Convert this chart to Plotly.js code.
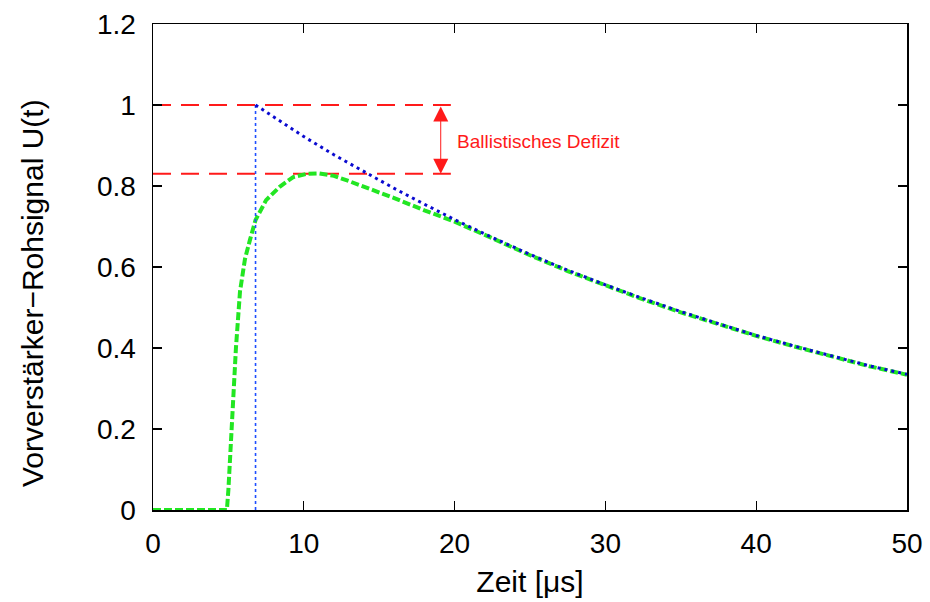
<!DOCTYPE html>
<html>
<head>
<meta charset="utf-8">
<script src="https://cdn.plot.ly/plotly-3.0.1.min.js"></script>
<style>html,body{margin:0;padding:0;background:#fff}#chart{width:930px;height:602px}</style>
</head>
<body>
<div id="chart"></div>
<script>
// Data
const greenX = [0, 4.9, 5.0, 5.3, 5.5, 5.77, 6.1, 6.43, 6.8, 7.5, 8.4, 9.3, 10.2, 11.0, 12.0, 13.0, 14.6, 16.0, 18.0, 20.0, 22.5, 25, 27.5, 30, 32.5, 35, 37.5, 40, 42.5, 45, 47.5, 50];
const greenY = [0, 0, 0.05, 0.27, 0.40, 0.54, 0.62, 0.667, 0.716, 0.765, 0.798, 0.822, 0.830, 0.831, 0.825, 0.812, 0.790, 0.770, 0.740, 0.712, 0.671, 0.629, 0.590, 0.554, 0.520, 0.488, 0.458, 0.430, 0.404, 0.379, 0.355, 0.334];
const blueX = [6.8, 8, 10, 12, 14, 16, 18, 20, 22.5, 25, 27.5, 30, 32.5, 35, 37.5, 40, 42.5, 45, 47.5, 50];
const blueY = [1.0, 0.970, 0.922, 0.877, 0.835, 0.794, 0.755, 0.717, 0.673, 0.631, 0.592, 0.556, 0.522, 0.490, 0.460, 0.431, 0.405, 0.380, 0.356, 0.335];
const stepX = [6.8, 6.8];
const stepY = [0, 1.0];
const levelTop = 1.0;
const levelPeak = 0.83;
const levelX = [0, 19.75];
const arrowX = 19.08;
const labelText = "Ballistisches Defizit";
const xTitle = "Zeit [μs]";
const yTitle = "Vorverstärker−Rohsignal U(t)";
const xTicks = [0, 10, 20, 30, 40, 50];
const yTicks = [0, 0.2, 0.4, 0.6, 0.8, 1, 1.2];
const yTickText = ["0", "0.2", "0.4", "0.6", "0.8", "1", "1.2"];

const traces = [
  {x: levelX, y: [levelTop, levelTop], mode: 'lines', line: {color: '#ff1a1a', width: 2, dash: '18px,10px'}, hoverinfo: 'skip'},
  {x: levelX, y: [levelPeak, levelPeak], mode: 'lines', line: {color: '#ff1a1a', width: 2, dash: '18px,10px'}, hoverinfo: 'skip'},
  {x: greenX, y: greenY, mode: 'lines', line: {color: '#22e622', width: 4, dash: '8px,3px'}},
  {x: stepX, y: stepY, mode: 'lines', line: {color: '#1f4fff', width: 1.6, dash: '3px,3px'}},
  {x: blueX, y: blueY, mode: 'lines', line: {color: '#0a0ad0', width: 3, dash: '3px,4px'}}
];

const fam = 'Liberation Sans, Arial, sans-serif';
const axFont = {family: fam, size: 28, color: '#000'};
const layout = {
  width: 930, height: 602,
  margin: {l: 153, r: 23, t: 24, b: 92},
  paper_bgcolor: '#fff', plot_bgcolor: '#fff',
  showlegend: false,
  xaxis: {
    range: [0, 50], tickvals: xTicks, ticktext: xTicks.map(String),
    ticks: 'inside', ticklen: 9, tickwidth: 1.2, tickcolor: '#000',
    showline: true, linecolor: '#000', linewidth: 1.5, mirror: 'ticks',
    showgrid: false, zeroline: false, tickfont: axFont, ticklabelstandoff: 8,
    title: {text: xTitle, font: {family: fam, size: 30, color: '#000'}, standoff: 13}
  },
  yaxis: {
    range: [0, 1.2], tickvals: yTicks, ticktext: yTickText,
    ticks: 'inside', ticklen: 9, tickwidth: 1.2, tickcolor: '#000',
    showline: true, linecolor: '#000', linewidth: 1.5, mirror: 'ticks',
    showgrid: false, zeroline: false, tickfont: axFont, ticklabelstandoff: 10
  },
  annotations: [
    {x: arrowX, y: levelPeak, ax: arrowX, ay: levelTop, xref: 'x', yref: 'y', axref: 'x', ayref: 'y',
     showarrow: true, arrowhead: 2, startarrowhead: 2, arrowside: 'end+start', arrowsize: 3, startarrowsize: 3,
     arrowwidth: 1, arrowcolor: '#ff1a1a', text: '', standoff: 0, startstandoff: 0},
    {x: 20.0, y: 0.909, xref: 'x', yref: 'y', xanchor: 'left', yanchor: 'middle', showarrow: false,
     text: labelText, font: {family: fam, size: 19, color: '#ff1a1a'}},
    {x: -0.1605, y: 0.4465, xref: 'paper', yref: 'paper', xanchor: 'center', yanchor: 'middle', showarrow: false,
     textangle: -90, text: yTitle, font: {family: fam, size: 30, color: '#000'}}
  ]
};

Plotly.newPlot('chart', traces, layout, {displayModeBar: false, staticPlot: true});
</script>
</body>
</html>
